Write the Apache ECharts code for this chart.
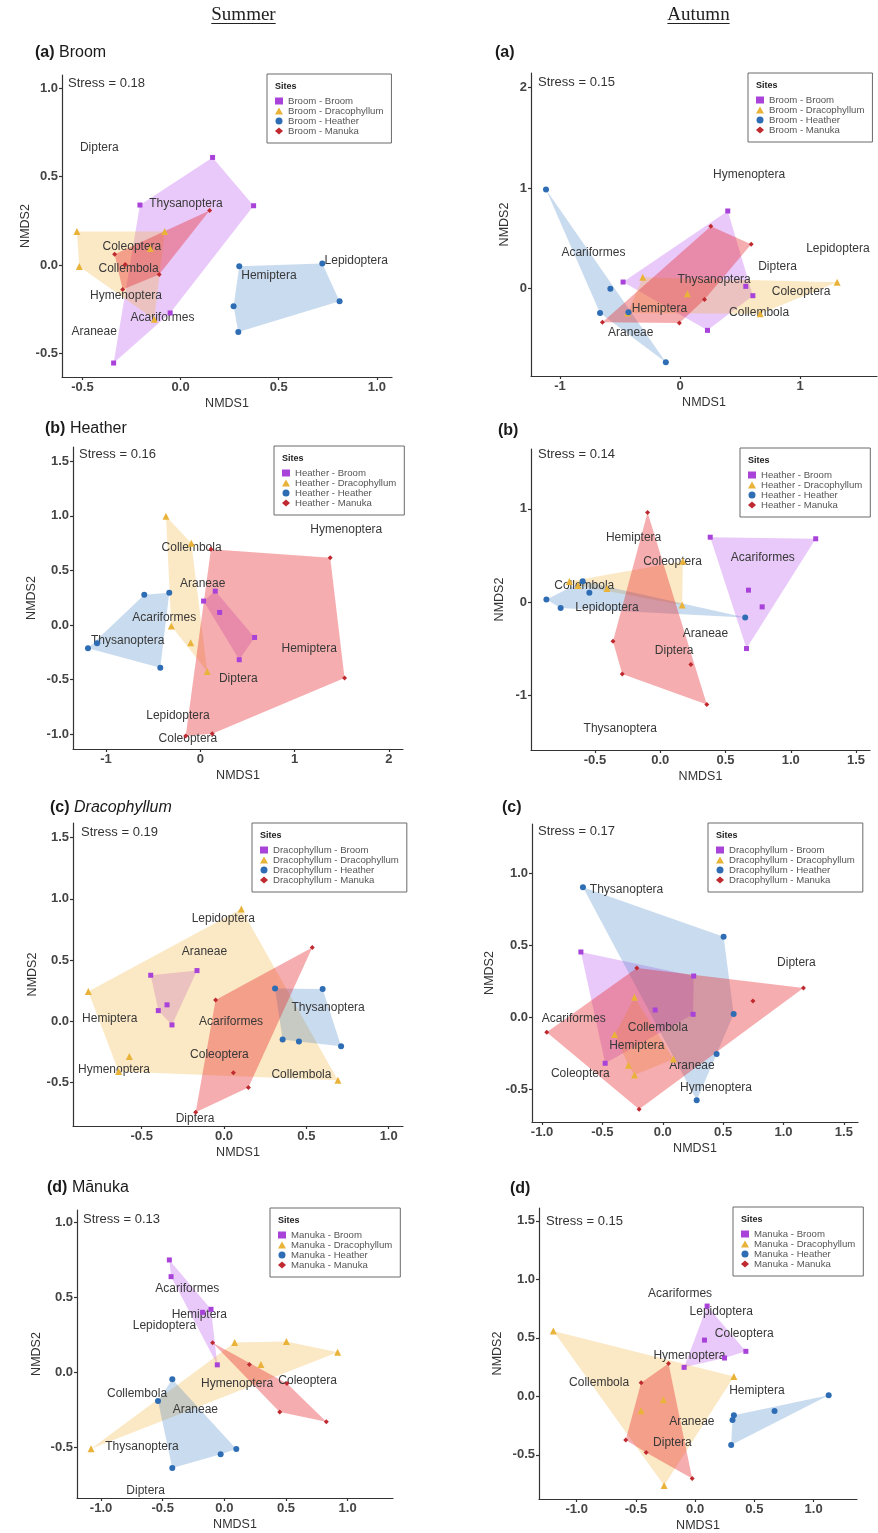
<!DOCTYPE html>
<html>
<head>
<meta charset="utf-8">
<script src="https://cdn.jsdelivr.net/npm/echarts@6/dist/echarts.min.js"></script>
<style>
  html, body { margin: 0; padding: 0; background: #fff; }
  #chart { width: 878px; height: 1533px; }
</style>
</head>
<body>
<div id="chart"></div>
<script>
// NMDS site scores (NMDS1, NMDS2) per host plant, summer (s) and autumn (a)
// Order inside each array: five replicate sites.

// ---- Summer (a) Broom ----
const sA_B = [[0.163,0.609],[0.372,0.336],[-0.207,0.340],[-0.053,-0.270],[-0.341,-0.553]];
const sA_D = [[-0.528,0.190],[-0.516,-0.008],[-0.081,0.190],[-0.154,0.094],[-0.134,-0.306]];
const sA_H = [[0.299,-0.006],[0.722,0.009],[0.810,-0.204],[0.270,-0.232],[0.294,-0.377]];
const sA_M = [[0.148,0.309],[-0.336,0.062],[-0.282,0.004],[-0.109,-0.053],[-0.295,-0.138]];
const sA_taxa = [['Diptera',-0.414,0.664],['Thysanoptera',0.027,0.347],['Coleoptera',-0.248,0.102],
  ['Collembola',-0.265,-0.019],['Hymenoptera',-0.278,-0.172],['Acariformes',-0.092,-0.296],
  ['Araneae',-0.440,-0.374],['Hemiptera',0.450,-0.057],['Lepidoptera',0.895,0.028]];

// ---- Autumn (a) Broom ----
const aA_B = [[0.397,0.773],[-0.475,0.066],[0.547,0.023],[0.606,-0.070],[0.228,-0.415]];
const aA_D = [[-0.311,0.113],[1.308,0.063],[0.061,-0.050],[-0.436,-0.242],[0.667,-0.249]];
const aA_H = [[-1.117,0.988],[-0.581,0.000],[-0.667,-0.242],[-0.119,-0.733],[-0.430,-0.235]];
const aA_M = [[0.256,0.620],[0.592,0.441],[0.203,-0.109],[-0.647,-0.335],[-0.006,-0.342]];
const aA_taxa = [['Hymenoptera',0.575,1.134],['Acariformes',-0.722,0.358],['Lepidoptera',1.314,0.401],
  ['Diptera',0.811,0.222],['Thysanoptera',0.283,0.093],['Coleoptera',1.008,-0.030],
  ['Hemiptera',-0.172,-0.199],['Collembola',0.658,-0.239],['Araneae',-0.411,-0.435]];

// ---- Summer (b) Heather ----
const sB_B = [[0.159,0.311],[0.035,0.220],[0.205,0.116],[0.576,-0.113],[0.413,-0.317]];
const sB_D = [[-0.364,0.997],[-0.095,0.750],[-0.307,-0.009],[-0.102,-0.162],[0.074,-0.424]];
const sB_H = [[-0.594,0.277],[-0.329,0.296],[-1.095,-0.165],[-1.191,-0.213],[-0.424,-0.390]];
const sB_M = [[0.113,0.695],[1.378,0.616],[1.530,-0.485],[0.127,-0.994],[-0.155,-1.015]];
const sB_taxa = [['Hymenoptera',1.548,0.872],['Collembola',-0.092,0.707],['Araneae',0.025,0.375],
  ['Acariformes',-0.382,0.067],['Thysanoptera',-0.770,-0.146],['Hemiptera',1.155,-0.213],
  ['Diptera',0.403,-0.488],['Lepidoptera',-0.237,-0.826],['Coleoptera',-0.131,-1.037]];

// ---- Autumn (b) Heather ----
const aB_B = [[0.383,0.696],[1.191,0.679],[0.676,0.129],[0.781,-0.050],[0.661,-0.496]];
const aB_D = [[-0.696,0.221],[-0.630,0.179],[-0.408,0.146],[0.173,0.439],[0.168,-0.029]];
const aB_H = [[-0.872,0.029],[-0.763,-0.061],[-0.543,0.100],[-0.594,0.225],[0.651,-0.164]];
const aB_M = [[-0.097,0.961],[-0.362,-0.418],[-0.291,-0.768],[0.235,-0.668],[0.357,-1.096]];
const aB_taxa = [['Hemiptera',-0.204,0.686],['Coleoptera',0.094,0.436],['Acariformes',0.786,0.475],
  ['Collembola',-0.582,0.182],['Lepidoptera',-0.408,-0.054],['Araneae',0.347,-0.339],
  ['Diptera',0.107,-0.521],['Thysanoptera',-0.306,-1.354]];

// ---- Summer (c) Dracophyllum ----
const sC_B = [[-0.445,0.376],[-0.164,0.414],[-0.346,0.134],[-0.399,0.087],[-0.316,-0.030]];
const sC_D = [[0.105,0.918],[-0.824,0.243],[-0.575,-0.289],[-0.640,-0.411],[0.692,-0.482]];
const sC_H = [[0.310,0.267],[0.599,0.264],[0.356,-0.150],[0.455,-0.166],[0.711,-0.204]];
const sC_M = [[0.536,0.602],[-0.051,0.174],[0.057,-0.420],[0.148,-0.542],[-0.172,-0.744]];
const sC_taxa = [['Lepidoptera',-0.004,0.839],['Araneae',-0.119,0.572],['Thysanoptera',0.632,0.114],
  ['Hemiptera',-0.694,0.025],['Acariformes',0.043,-0.003],['Coleoptera',-0.028,-0.270],
  ['Hymenoptera',-0.668,-0.392],['Collembola',0.470,-0.433],['Diptera',-0.176,-0.793]];

// ---- Autumn (c) Dracophyllum ----
const aC_B = [[-0.678,0.454],[0.256,0.287],[-0.063,0.051],[0.251,0.021],[-0.477,-0.319]];
const aC_D = [[-0.234,0.139],[-0.399,-0.120],[-0.284,-0.333],[-0.234,-0.400],[0.088,-0.289]];
const aC_H = [[-0.661,0.903],[0.504,0.560],[0.587,0.023],[0.446,-0.255],[0.281,-0.576]];
const aC_M = [[-0.215,0.343],[1.165,0.204],[0.747,0.113],[-0.961,-0.104],[-0.196,-0.639]];
const aC_taxa = [['Thysanoptera',-0.300,0.889],['Diptera',1.107,0.380],['Acariformes',-0.738,-0.009],
  ['Collembola',-0.041,-0.074],['Hemiptera',-0.215,-0.194],['Araneae',0.242,-0.333],
  ['Coleoptera',-0.683,-0.389],['Hymenoptera',0.441,-0.491]];

// ---- Summer (d) Manuka ----
const sD_B = [[-0.446,0.748],[-0.432,0.637],[-0.176,0.400],[-0.108,0.420],[-0.057,0.051]];
const sD_D = [[0.084,0.199],[0.503,0.206],[0.919,0.135],[0.297,0.053],[-1.081,-0.507]];
const sD_H = [[-0.422,-0.044],[-0.538,-0.190],[0.097,-0.509],[-0.030,-0.544],[-0.422,-0.635]];
const sD_M = [[-0.095,0.197],[0.203,0.053],[0.508,-0.073],[0.449,-0.263],[0.827,-0.327]];
const sD_taxa = [['Acariformes',-0.300,0.560],['Hemiptera',-0.203,0.383],['Lepidoptera',-0.486,0.310],
  ['Hymenoptera',0.103,-0.075],['Coleoptera',0.676,-0.055],['Collembola',-0.708,-0.142],
  ['Araneae',-0.235,-0.246],['Thysanoptera',-0.668,-0.496],['Diptera',-0.638,-0.785]];

// ---- Autumn (d) Manuka ----
const aD_B = [[0.101,0.772],[0.079,0.481],[0.428,0.385],[0.248,0.328],[-0.093,0.248]];
const aD_D = [[-1.197,0.558],[0.327,0.171],[-0.268,-0.028],[-0.456,-0.123],[-0.262,-0.761]];
const aD_H = [[1.127,0.009],[0.670,-0.125],[0.327,-0.162],[0.315,-0.202],[0.304,-0.416]];
const aD_M = [[-0.225,0.282],[-0.456,0.117],[-0.586,-0.373],[-0.414,-0.479],[-0.025,-0.701]];
const aD_taxa = [['Acariformes',-0.127,0.875],['Lepidoptera',0.220,0.724],['Coleoptera',0.414,0.538],
  ['Hymenoptera',-0.048,0.345],['Collembola',-0.811,0.114],['Hemiptera',0.521,0.048],
  ['Araneae',-0.028,-0.219],['Diptera',-0.192,-0.393]];

const stressValues = ['0.18','0.15','0.16','0.14','0.19','0.17','0.13','0.15'];
const siteGroups = ['Broom','Dracophyllum','Heather','Manuka'];
const seasonHeads = ['Summer','Autumn'];

// ---- styling ----
const SANS = '"Liberation Sans", Arial, Helvetica, sans-serif';
const SERIF = '"Liberation Serif", "Times New Roman", serif';
const markerColor = ['#A842D8', '#E9B33A', '#2E6DB4', '#BE2A30'];
const hullFill = ['rgba(183,80,235,0.31)', 'rgba(242,180,60,0.30)', 'rgba(62,125,195,0.28)', 'rgba(232,40,44,0.38)'];
const markerShape = ['rect', 'triangle', 'circle', 'diamond'];
const markerSize = [5, 7, 6, 5];

// panel layout: grid box, axis ranges and ticks, text placements
const panels = [
  { sets:[sA_B,sA_D,sA_H,sA_M], taxa:sA_taxa, prefix:'Broom', tag:'(a)', name:' Broom',
    grid:{left:62,top:75,width:330,height:302}, xr:[-0.604,1.077], yr:[-0.632,1.075],
    xt:[-0.5,0,0.5,1], yt:[-0.5,0,0.5,1], xd:1, yd:1, yGap:30, title:[35,45], stress:[68,83], legend:[267,74] },
  { sets:[aA_B,aA_D,aA_H,aA_M], taxa:aA_taxa, prefix:'Broom', tag:'(a)', name:'',
    grid:{left:531,top:73,width:346,height:303}, xr:[-1.242,1.64], yr:[-0.869,2.146],
    xt:[-1,0,1], yt:[0,1,2], xd:0, yd:0, yGap:19.5, title:[495,45], stress:[538,82], legend:[748,73] },
  { sets:[sB_B,sB_D,sB_H,sB_M], taxa:sB_taxa, prefix:'Heather', tag:'(b)', name:' Heather',
    grid:{left:73,top:447,width:330,height:302}, xr:[-1.35,2.15], yr:[-1.134,1.63],
    xt:[-1,0,1,2], yt:[-1,-0.5,0,0.5,1,1.5], xd:0, yd:1, yGap:34.5, title:[45,421], stress:[79,454], legend:[274,446] },
  { sets:[aB_B,aB_D,aB_H,aB_M], taxa:aB_taxa, prefix:'Heather', tag:'(b)', name:'',
    grid:{left:531,top:449,width:339,height:301}, xr:[-0.99,1.607], yr:[-1.582,1.64],
    xt:[-0.5,0,0.5,1,1.5], yt:[-1,0,1], xd:1, yd:0, yGap:24.5, title:[498,423], stress:[538,454], legend:[740,448] },
  { sets:[sC_B,sC_D,sC_H,sC_M], taxa:sC_taxa, prefix:'Dracophyllum', tag:'(c)', name:' Dracophyllum', italic:true,
    grid:{left:73,top:823,width:330,height:303}, xr:[-0.917,1.087], yr:[-0.856,1.62],
    xt:[-0.5,0,0.5,1], yt:[-0.5,0,0.5,1,1.5], xd:1, yd:1, yGap:33.5, title:[50,800], stress:[81,832], legend:[252,823] },
  { sets:[aC_B,aC_D,aC_H,aC_M], taxa:aC_taxa, prefix:'Dracophyllum', tag:'(c)', name:'',
    grid:{left:532,top:824,width:326,height:298}, xr:[-1.083,1.617], yr:[-0.727,1.343],
    xt:[-1,-0.5,0,0.5,1,1.5], yt:[-0.5,0,0.5,1], xd:1, yd:1, yGap:35.5, title:[502,800], stress:[538,831], legend:[708,823] },
  { sets:[sD_B,sD_D,sD_H,sD_M], taxa:sD_taxa, prefix:'Manuka', tag:'(d)', name:' Mānuka',
    grid:{left:77,top:1210,width:316,height:288}, xr:[-1.195,1.368], yr:[-0.834,1.08],
    xt:[-1,-0.5,0,0.5,1], yt:[-0.5,0,0.5,1], xd:1, yd:1, yGap:33.5, title:[47,1180], stress:[83,1219], legend:[270,1208] },
  { sets:[aD_B,aD_D,aD_H,aD_M], taxa:aD_taxa, prefix:'Manuka', tag:'(d)', name:'',
    grid:{left:539,top:1208,width:318,height:291}, xr:[-1.318,1.366], yr:[-0.877,1.61],
    xt:[-1,-0.5,0,0.5,1], yt:[-0.5,0,0.5,1,1.5], xd:1, yd:1, yGap:34.5, title:[510,1181], stress:[546,1221], legend:[733,1207] }
];

// convex hull (monotone chain) in data space
function convexHull(points) {
  const p = points.slice().sort((a, b) => a[0] - b[0] || a[1] - b[1]);
  const cross = (o, a, b) => (a[0]-o[0])*(b[1]-o[1]) - (a[1]-o[1])*(b[0]-o[0]);
  const lower = [];
  for (const q of p) {
    while (lower.length >= 2 && cross(lower[lower.length-2], lower[lower.length-1], q) <= 0) lower.pop();
    lower.push(q);
  }
  const upper = [];
  for (let i = p.length - 1; i >= 0; i--) {
    const q = p[i];
    while (upper.length >= 2 && cross(upper[upper.length-2], upper[upper.length-1], q) <= 0) upper.pop();
    upper.push(q);
  }
  upper.pop(); lower.pop();
  return lower.concat(upper);
}

const grids = [], xAxes = [], yAxes = [], series = [], legends = [], titles = [], graphics = [];
const axisLineStyle = { color: '#333', width: 1.2 };
const tickLabel = { fontSize: 13, color: '#444', fontWeight: 'bold', fontFamily: SANS };
const axisName = { fontSize: 12.5, color: '#333', fontFamily: SANS };

panels.forEach((P, i) => {
  grids.push(Object.assign({ containLabel: false }, P.grid));
  xAxes.push({
    gridIndex: i, type: 'value', min: P.xr[0], max: P.xr[1],
    axisLine: { show: true, onZero: false, lineStyle: axisLineStyle },
    axisTick: { show: true, customValues: P.xt, length: 3, lineStyle: axisLineStyle },
    axisLabel: { customValues: P.xt, margin: 4, formatter: v => Number(v).toFixed(P.xd), ...tickLabel },
    splitLine: { show: false },
    name: 'NMDS1', nameLocation: 'middle', nameGap: 20, nameTextStyle: axisName
  });
  yAxes.push({
    gridIndex: i, type: 'value', min: P.yr[0], max: P.yr[1],
    axisLine: { show: true, onZero: false, lineStyle: axisLineStyle },
    axisTick: { show: true, customValues: P.yt, length: 3, lineStyle: axisLineStyle },
    axisLabel: { customValues: P.yt, margin: 4, formatter: v => Number(v).toFixed(P.yd), ...tickLabel },
    splitLine: { show: false },
    name: 'NMDS2', nameLocation: 'middle', nameGap: P.yGap, nameRotate: 90, nameTextStyle: axisName
  });

  // hull polygons, one per site group
  P.sets.forEach((pts, k) => {
    const hull = convexHull(pts);
    series.push({
      type: 'custom', name: 'hull-' + i + '-' + k, xAxisIndex: i, yAxisIndex: i, z: 1, silent: true,
      data: hull,
      renderItem(params, api) {
        if (params.dataIndex !== 0) return null;
        return { type: 'polygon', shape: { points: hull.map(h => api.coord(h)) }, style: { fill: hullFill[k] } };
      }
    });
  });

  // taxon labels
  const taxa = P.taxa;
  series.push({
    type: 'custom', name: 'taxa-' + i, xAxisIndex: i, yAxisIndex: i, z: 2, silent: true,
    data: taxa.map(t => [t[1], t[2]]),
    renderItem(params, api) {
      const c = api.coord([api.value(0), api.value(1)]);
      return { type: 'text', x: c[0], y: c[1],
        style: { text: taxa[params.dataIndex][0], fill: '#383838', font: '12px ' + SANS, align: 'center', verticalAlign: 'middle' } };
    }
  });

  // site points
  const names = [];
  P.sets.forEach((pts, k) => {
    const nm = P.prefix + ' - ' + siteGroups[k];
    names.push(nm);
    series.push({
      type: 'scatter', name: nm, xAxisIndex: i, yAxisIndex: i, z: 3, silent: true,
      data: pts, symbol: markerShape[k], symbolSize: markerSize[k],
      itemStyle: { color: markerColor[k], opacity: 1 }
    });
  });

  legends.push({
    orient: 'vertical', left: P.legend[0], top: P.legend[1], padding: [22, 8, 7, 8],
    itemWidth: 8, itemHeight: 7, itemGap: 0, borderColor: '#6a6a6a', borderWidth: 1,
    selectedMode: false, data: names,
    textStyle: { fontSize: 9.6, lineHeight: 9.3, color: '#555', fontFamily: SANS }
  });
  graphics.push({ type: 'text', x: P.legend[0] + 8, y: P.legend[1] + 13,
    style: { text: 'Sites', font: 'bold 9px ' + SANS, fill: '#222', verticalAlign: 'middle' } });

  titles.push({
    text: '{b|' + P.tag + '}' + (P.name ? '{' + (P.italic ? 'i' : 'n') + '|' + P.name + '}' : ''),
    left: P.title[0], top: P.title[1], padding: 0,
    textStyle: { fontWeight: 'normal', fontSize: 16, fontFamily: SANS, rich: {
      b: { fontSize: 16, fontWeight: 'bold', fontFamily: SANS, color: '#1a1a1a' },
      n: { fontSize: 16, fontWeight: 'normal', fontFamily: SANS, color: '#1a1a1a' },
      i: { fontSize: 16, fontWeight: 'normal', fontStyle: 'italic', fontFamily: SANS, color: '#1a1a1a' }
    } }
  });

  graphics.push({ type: 'text', x: P.stress[0], y: P.stress[1],
    style: { text: 'Stress = ' + stressValues[i], font: '13px ' + SANS, fill: '#333', verticalAlign: 'middle' } });
});

// season column headings, underlined
const measure = document.createElement('canvas').getContext('2d');
measure.font = '19px ' + SERIF;
[[243.5, seasonHeads[0]], [698.5, seasonHeads[1]]].forEach(([cx, txt]) => {
  const w = measure.measureText(txt).width;
  graphics.push({ type: 'text', x: cx, y: 15.5,
    style: { text: txt, font: '19px ' + SERIF, fill: '#222', align: 'center', verticalAlign: 'middle' } });
  graphics.push({ type: 'line', shape: { x1: cx - w / 2, y1: 23.5, x2: cx + w / 2, y2: 23.5 },
    style: { stroke: '#222', lineWidth: 1 } });
});

const chart = echarts.init(document.getElementById('chart'), null, { renderer: 'canvas' });
chart.setOption({
  backgroundColor: '#fff',
  animation: false,
  title: titles,
  grid: grids,
  xAxis: xAxes,
  yAxis: yAxes,
  legend: legends,
  graphic: graphics,
  series: series
});
</script>
</body>
</html>
